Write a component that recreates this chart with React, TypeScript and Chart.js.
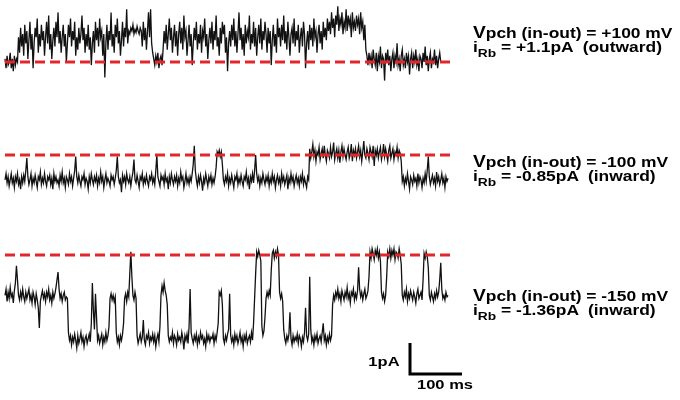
import React, { useEffect, useRef } from "react";
import { Chart, registerables } from "chart.js";

Chart.register(...registerables);

const SAMPLE_MS = 2;

// Trace at Vpch = +100 mV, current (pA) relative to closed level
const tracePlus100 = [
  .1, -.2, .2, -.1, .0, .3, -.2, .1, -.3, .2, -.1, .1, .0, .8, .3, 1.1, .5, .9, .2, 1.2,
  .6, 1.0, .1, .7, 1.3, .4, .9, -.2, .6, 1.1, .8, 1.4, .3, .9, .5, 1.2, .7, 1.0, .2, .8,
  1.3, .6, 1.5, .4, .9, .1, .7, 1.1, .5, 1.3, .8, 1.6, .6, 1.0, .3, .8, 1.2, .5, .9, .0,
  .6, 1.2, .8, 1.4, .5, 1.0, .7, 1.3, .2, .8, .4, 1.1, .6, .9, 1.5, .7, 1.1, .3, .9, .5,
  1.2, .4, .8, -.1, .6, 1.0, .3, 1.3, .7, 1.1, .5, 1.4, .8, 1.0, .2, .9, -.5, .6, 1.2, .4,
  1.0, .7, 1.6, .5, .9, .3, 1.2, .8, 1.4, .6, 1.0, .2, .7, 1.3, .5, 1.1, .8, 1.7, .6, 1.0,
  .9, 1.1, 1.0, 1.2, .9, 1.05, .95, 1.15, 1.0, .9, 1.1, 1.0, .5, 1.3, .7, 1.1, .4, 1.0, 1.6, .8,
  1.7, .6, .3, .1, -.1, .2, .0, .3, -.2, .1, .2, -.1, .4, 1.0, .6, 1.2, .4, .9, 1.4, .7,
  1.1, .3, .8, 1.2, .5, 1.0, .2, .9, 1.3, .6, 1.1, .4, 1.5, .8, 1.0, .2, .7, 1.2, .5, .9,
  -.1, .6, 1.1, .7, 1.3, .4, .9, .6, 1.2, .3, 1.0, .8, 1.4, .5, .9, .1, .7, 1.1, .6, 1.3,
  .4, 1.0, .7, 1.5, .5, .8, .2, 1.1, .6, 1.3, .9, 1.2, .3, .8, -.3, .6, 1.0, .5, 1.2, .7,
  1.4, .5, 1.0, .3, .9, 1.6, .7, 1.1, .4, .9, .2, 1.2, .6, 1.0, .8, 1.5, .4, .9, .6, 1.3,
  .5, 1.1, .2, .8, 1.2, .6, 1.4, .4, 1.0, .7, 1.3, .9, .3, 1.1, .6, 1.0, -.1, .7, 1.2, .5,
  .9, .3, 1.4, .8, 1.1, .5, 1.2, .7, 1.5, .6, 1.0, .4, 1.3, .8, .2, .9, 1.1, .6, 1.4, .5,
  1.0, .7, 1.2, .3, .8, 1.1, .5, 1.3, .9, -.2, .6, 1.0, .4, 1.2, .7, 1.1, .5, 1.4, .8, 1.0,
  .3, .9, 1.2, .6, 1.0, .4, 1.3, .8, 1.1, .7, 1.4, 1.0, 1.3, .9, 1.6, 1.1, 1.4, .8, 1.5, 1.2,
  1.8, 1.0, 1.4, 1.2, 1.6, .9, 1.3, 1.1, 1.7, 1.0, 1.5, 1.2, 1.4, .8, 1.6, 1.1, 1.3, 1.0, 1.5, 1.2,
  1.4, .9, 1.6, 1.1, 1.3, .7, 1.2, .4, .2, -.1, .3, .0, .2, -.2, .4, .1, -.1, .3, -.3, .2,
  .0, .5, -.2, .2, .1, -.6, .3, .0, .4, -.1, .2, -.3, .1, .3, -.2, .2, .0, .6, -.1, .1,
  -.3, .2, .4, -.1, .1, -.2, .3, .0, .2, -.4, .1, .3, -.2, .2, .0, .4, -.1, .1, -.3, .2,
  .1, -.2, .3, .0, .5, -.1, .2, -.3, .1, .3, -.2, .1, .0, .4, -.1, .2, -.2, .1, .3, .0,
];

// Trace at Vpch = -100 mV, current (pA) relative to the dashed level
const traceMinus100 = [
  -.8, -.6, -.9, -.7, -1.0, -.8, -.6, -.9, -.75, -1.05, -.7, -.85, -.6, -.95, -.8, -1.1, -.7, -.9, -.65, -.85,
  -.5, -.1, -.7, -.95, -.8, -.6, -1.0, -.75, -.9, -.65, -.85, -1.05, -.7, -.8, -.55, -.95, -.75, -.9, -.6, -.85,
  -1.0, -.7, -.8, -.65, -.95, -.75, -1.1, -.6, -.85, -.7, -.9, -.8, -1.0, -.65, -.85, -.55, -.9, -.75, -1.05, -.7,
  -.8, -.95, -.6, -.85, -.7, -1.0, -.75, -.5, -.05, -.7, -.9, -.65, -.85, -1.0, -.7, -.8, -.6, -.95, -.75, -.85,
  -1.1, -.7, -.9, -.6, -.8, -.95, -.7, -.85, -.65, -1.0, -.75, -.9, -.55, -.85, -.7, -1.05, -.8, -.6, -.9, -.75,
  -.85, -1.0, -.65, -.8, -.7, -.95, -.75, -.5, -.05, -.7, -.9, -.8, -1.2, -.65, -.85, -.7, -.95, -.6, -.8, -.9,
  -.7, -1.0, -.75, -.55, -.15, -.8, -.9, -.65, -.85, -1.05, -.7, -.8, -.6, -.95, -.75, -.9, -.65, -.85, -1.0, -.7,
  -.8, -.6, -.9, -.75, -.95, -.5, .0, -.7, -.85, -1.0, -.65, -.8, -.7, -.95, -.6, -.85, -.75, -1.1, -.7, -.9,
  -.6, -.8, -.95, -.7, -.85, -.65, -1.0, -.75, -.9, -.55, -.8, -.7, -1.05, -.85, -.6, -.9, -.75, -.95, -.7, -.85,
  -.6, -.3, .3, -.5, -.8, -1.0, -.7, -.9, -.65, -.85, -1.15, -.75, -.9, -.6, -.8, -1.0, -.7, -.85, -.65, -.95,
  -.75, -.9, -.7, -.4, .1, .0, .15, -.05, .1, -.3, -.8, -.95, -.7, -.85, -.6, -1.0, -.75, -.9, -.65, -.85,
  -1.05, -.7, -.8, -.6, -.95, -.75, -.9, -.65, -.85, -1.0, -.7, -.8, -.55, -.9, -.75, -1.1, -.7, -.85, -.6, -.9,
  -.5, .0, -.6, -.85, -.7, -1.0, -.75, -.9, -.6, -.8, -.95, -.7, -.85, -.65, -1.0, -.75, -.9, -.6, -.85, -.7,
  -1.05, -.8, -.65, -.9, -.75, -1.0, -.6, -.85, -.7, -.95, -.8, -.65, -1.1, -.75, -.9, -.6, -.85, -.7, -1.0, -.8,
  -.65, -.9, -.75, -1.0, -.7, -.85, -.6, -.95, -.75, -.9, -1.05, -.7, -.8,
  .2, -.1, .1, .35, -.05, .15, -.2,
  .1, .0, .25, -.15, .05, .2, -.1, .3, .0, -.2, .15, .05, -.1, .25, -.05, .1, .4, -.15, .05, .2,
  -.1, .15, -.25, .1, .3, -.05, .2, .0, -.15, .1, .25, -.1, .05, .35, -.2, .15, .0, .2, -.1, .1,
  .3, -.05, .15, -.2, .1, .45, .0, -.1, .2, .05, -.15, .25, .1, -.05, .3, -.35, .15, .0, .2, -.1,
  .1, .25, -.15, .05, .35, -.05, .2, .0, -.2, .15, .3, -.1, .05, .2, -.15, .1, .0, .25, -.1, .15,
  .05, -.2,
  -.85, -.7, -1.0, -.75, -.9, -.6, -.85, -1.1, -.7, -.8, -.95, -.65, -.85, -.75, -1.0, -.6, -.9, -.7,
  -.8, -1.05, -.75, -.9, -.6, -.85, -.5, -.05, -.7, -.95, -.8, -.65, -.9, -.75, -1.0, -.55, -.85, -.7, -.95, -.8,
  -.6, -.9, -.75, -1.05, -.7, -.85, -.75,
];

// Trace at Vpch = -150 mV, current (pA) relative to the dashed level
const traceMinus150 = [
  -1.3, -1.1, -1.5, -1.2, -1.4, -1.05, -1.35, -1.25, -1.55, -1.15, -.9, -.35, -.8, -1.3, -1.45, -1.2, -1.4, -1.1, -1.35, -1.5,
  -1.2, -1.4, -1.25, -1.1, -1.45, -1.3, -1.55, -1.2, -1.35, -1.6, -1.25, -1.45, -1.7, -2.35, -1.5, -1.3, -1.15, -1.4, -1.25, -1.5,
  -1.2, -1.35, -1.1, -1.45, -1.3, -1.55, -1.2, -1.4, -1.25, -1.05, -.8, -.55, -1.1, -1.4, -1.25, -1.5, -1.3, -1.2, -1.45, -1.35, -1.4,
  -2.5, -2.75, -2.6, -2.9, -2.65, -2.8, -2.55, -2.75, -3.0, -2.6, -2.85, -2.7, -2.5, -2.8, -2.65, -2.95, -2.7, -2.6, -2.85,
  -2.7, -2.55, -2.8, -2.2, -.9, -1.8, -2.4, -1.25, -2.0, -2.75, -2.6, -2.85, -2.7, -2.55, -2.9, -2.65, -2.8, -2.5, -2.75, -2.6,
  -2.3, -1.4, -1.25, -1.45, -1.3, -1.5, -1.35, -2.5, -2.8, -2.65, -2.9, -2.6, -2.75, -2.55, -2.2, -1.4, -1.25, -1.5, -1.2, -1.35,
  -.6, .1, -.7, -1.3, -1.45, -1.2, -1.4, -2.6, -2.85, -2.7, -2.55, -2.8, -2.65, -2.1, -2.75, -2.9, -2.6, -2.7, -2.5, -2.85,
  -2.65, -2.75, -2.55, -2.8, -2.6, -2.95, -2.7, -2.55, -2.8, -2.3, -1.3, -1.0, -1.2, -.9, -1.15, -1.3, -1.6, -2.6, -2.8, -2.65,
  -2.75, -2.5, -2.85, -2.6, -2.7, -2.9, -2.55, -2.75, -2.65, -2.8, -2.5, -2.7, -3.05, -2.6, -2.75, -2.55, -2.85, -2.3, -1.1, -2.5,
  -2.7, -2.85, -2.6, -2.75, -2.55, -2.9, -2.65, -2.8, -2.5, -2.7, -2.6, -2.85, -2.7, -2.95, -2.55, -2.75, -2.6, -2.8, -2.65, -2.7,
  -2.55, -2.85, -2.6, -2.75, -2.5, -2.2, -1.2, -1.3, -1.15, -1.6, -2.7, -2.85, -2.6, -2.75, -2.55, -2.4, -1.25, -2.6, -2.8, -2.65,
  -2.9, -2.55, -2.75, -2.6, -2.85, -2.7, -2.5, -2.8, -2.65, -2.95, -2.6, -2.75, -2.55, -2.85, -2.7, -2.6, -2.8, -2.5, -2.75, -2.2,
  -1.4, -.6, .1, -.05, .15, .0, -.2, -2.3, -2.6, -2.45, -2.0, -1.4, -1.2, -1.35, -1.15, -1.3, -.5, .05, .15, -.1,
  .1, -.05, .2, .0, -1.2, -1.4, -1.25, -1.5, -2.4, -2.7, -2.85, -2.6, -2.75, -2.55, -1.85, -2.7, -2.9, -2.6, -2.8, -2.65,
  -2.75, -2.55, -2.85, -2.6, -2.7, -2.95, -2.65, -2.8, -2.5, -1.7, -2.6, -2.75, -2.55, -.7, -2.4, -2.8, -2.65, -2.9, -2.6, -2.75,
  -2.55, -2.85, -2.7, -2.6, -2.8, -2.5, -2.2, -2.75, -2.6, -2.9, -2.65, -2.8, -2.55, -2.75, -2.6,
  -1.6, -1.3, -1.45, -1.2, -1.35, -1.1, -1.4, -1.25, -1.5, -1.15, -1.3, -1.45, -1.2, -1.35, -1.05, -1.4, -1.25, -1.55, -1.2, -1.3,
  -1.1, -1.45, -1.25, -1.4, -1.15,
  -.4, -1.1, -1.35, -1.2, -1.45, -1.25, -1.1, -1.4, -1.3, -1.15, -.7,
  .1, -.1, .2, .05, -.15, .15, .0, .2, -.1, .1, -.2,
  -1.2, -1.4, -1.25, -1.5, -1.3, -.7,
  .1, -.05, .2, -.1, .15, .0, .2, -.15, .1, .05, -.1, .2, .0, -.3,
  -1.3, -1.45, -1.2, -1.35, -1.1, -1.5, -1.25, -1.4, -1.15, -1.3, -1.45, -1.2, -1.35, -1.55, -1.25, -1.1, -1.4, -1.3, -1.2, -1.45, -.8,
  .05, -.1, .1, -.05, -.4,
  -1.3, -1.45, -1.2, -1.35, -1.5, -1.25, -1.4, -1.15, -1.35, -1.2, -.8, -.25, -1.1, -1.4, -1.3, -1.45, -1.2, -1.35, -1.3,
];

const DASH_END_MS = 865;
const SCALE_PA = 1;
const SCALE_MS = 100;

const vpchLabels = ["+100", "-100", "-150"];
const iRbLabels = ["+1.1", "-0.85", "-1.36"];
const directionLabels = ["outward", "inward", "inward"];

// Layout (chart coordinates: ms on x, pA on y)
const PX_PER_MS = 0.52;
const PX_PER_PA = 31;
const W = 680;
const H = 400;
const X0_PX = 5;
const X_MIN = -X0_PX / PX_PER_MS;
const X_MAX = X_MIN + W / PX_PER_MS;
const Y_MAX = H / PX_PER_PA;
const OFFSETS = [(H - 62) / PX_PER_PA, (H - 155) / PX_PER_PA, (H - 255) / PX_PER_PA];
const SCALEBAR_X = (410 - X0_PX) / PX_PER_MS;
const SCALEBAR_Y = (H - 374) / PX_PER_PA;

const FONT = '"Liberation Sans", Arial, Helvetica, sans-serif';
const FS = 14.5;
const FS_V = 16;
const ASC = 0.9215;
const STRETCH = 1.2;

function toPoints(values: number[], offset: number) {
  return values.map((v, i) => ({ x: i * SAMPLE_MS, y: v + offset }));
}

const lineStyle = (top: number): React.CSSProperties => ({
  position: "absolute",
  left: 473,
  top,
  fontFamily: FONT,
  fontWeight: 700,
  fontSize: FS,
  lineHeight: "normal",
  color: "#000",
  whiteSpace: "pre",
  transform: `scaleX(${STRETCH})`,
  transformOrigin: "0 0",
});

function Label({ idx, base1, base2 }: { idx: number; base1: number; base2: number }) {
  return (
    <>
      <div style={lineStyle(base1 - ASC * FS_V)}>
        <span style={{ fontSize: FS_V }}>V</span>pch (in-out) = {vpchLabels[idx]} mV
      </div>
      <div style={lineStyle(base2 - ASC * FS)}>
        i<span style={{ fontSize: 11.5, position: "relative", top: 5 }}>Rb</span>{" = "}
        {iRbLabels[idx]}pA  ({directionLabels[idx]})
      </div>
    </>
  );
}

export default function App() {
  const canvasRef = useRef<HTMLCanvasElement | null>(null);

  useEffect(() => {
    if (!canvasRef.current) return;
    const red = "#e3262b";
    const dashed = (offset: number) => ({
      data: [
        { x: 0, y: offset },
        { x: DASH_END_MS, y: offset },
      ],
      borderColor: red,
      borderWidth: 3,
      borderDash: [10, 5],
      pointRadius: 0,
    });
    const trace = (values: number[], offset: number) => ({
      data: toPoints(values, offset),
      borderColor: "#111",
      borderWidth: 1.3,
      pointRadius: 0,
    });
    const chart = new Chart(canvasRef.current, {
      type: "line",
      data: {
        datasets: [
          dashed(OFFSETS[0]),
          dashed(OFFSETS[1]),
          dashed(OFFSETS[2]),
          {
            data: [
              { x: SCALEBAR_X, y: SCALEBAR_Y + SCALE_PA },
              { x: SCALEBAR_X, y: SCALEBAR_Y },
              { x: SCALEBAR_X + SCALE_MS, y: SCALEBAR_Y },
            ],
            borderColor: "#000",
            borderWidth: 3,
            borderJoinStyle: "miter",
            pointRadius: 0,
          },
          trace(tracePlus100, OFFSETS[0]),
          trace(traceMinus100, OFFSETS[1]),
          trace(traceMinus150, OFFSETS[2]),
        ] as any,
      },
      options: {
        animation: false,
        responsive: false,
        maintainAspectRatio: false,
        events: [],
        layout: { padding: 0 },
        plugins: { legend: { display: false }, tooltip: { enabled: false } },
        elements: { line: { tension: 0 }, point: { radius: 0 } },
        scales: {
          x: { type: "linear", min: X_MIN, max: X_MAX, display: false },
          y: { type: "linear", min: 0, max: Y_MAX, display: false },
        },
      },
    });
    return () => chart.destroy();
  }, []);

  const smallText = (top: number, origin: string): React.CSSProperties => ({
    position: "absolute",
    top,
    fontFamily: FONT,
    fontWeight: 700,
    fontSize: 13,
    lineHeight: "normal",
    color: "#000",
    whiteSpace: "pre",
    transform: "scaleX(1.27)",
    transformOrigin: origin,
  });

  return (
    <div style={{ position: "fixed", left: 0, top: 0, width: W, height: H, background: "#fff" }}>
      <canvas ref={canvasRef} width={W} height={H} style={{ display: "block", width: W, height: H }} />
      <Label idx={0} base1={38.3} base2={52.3} />
      <Label idx={1} base1={167.3} base2={181.3} />
      <Label idx={2} base1={301.5} base2={315.5} />
      <div style={{ ...smallText(366 - ASC * 13, "100% 0"), right: W - 400 }}>1pA</div>
      <div style={{ ...smallText(389 - ASC * 13, "0 0"), left: 417 }}>100 ms</div>
    </div>
  );
}
